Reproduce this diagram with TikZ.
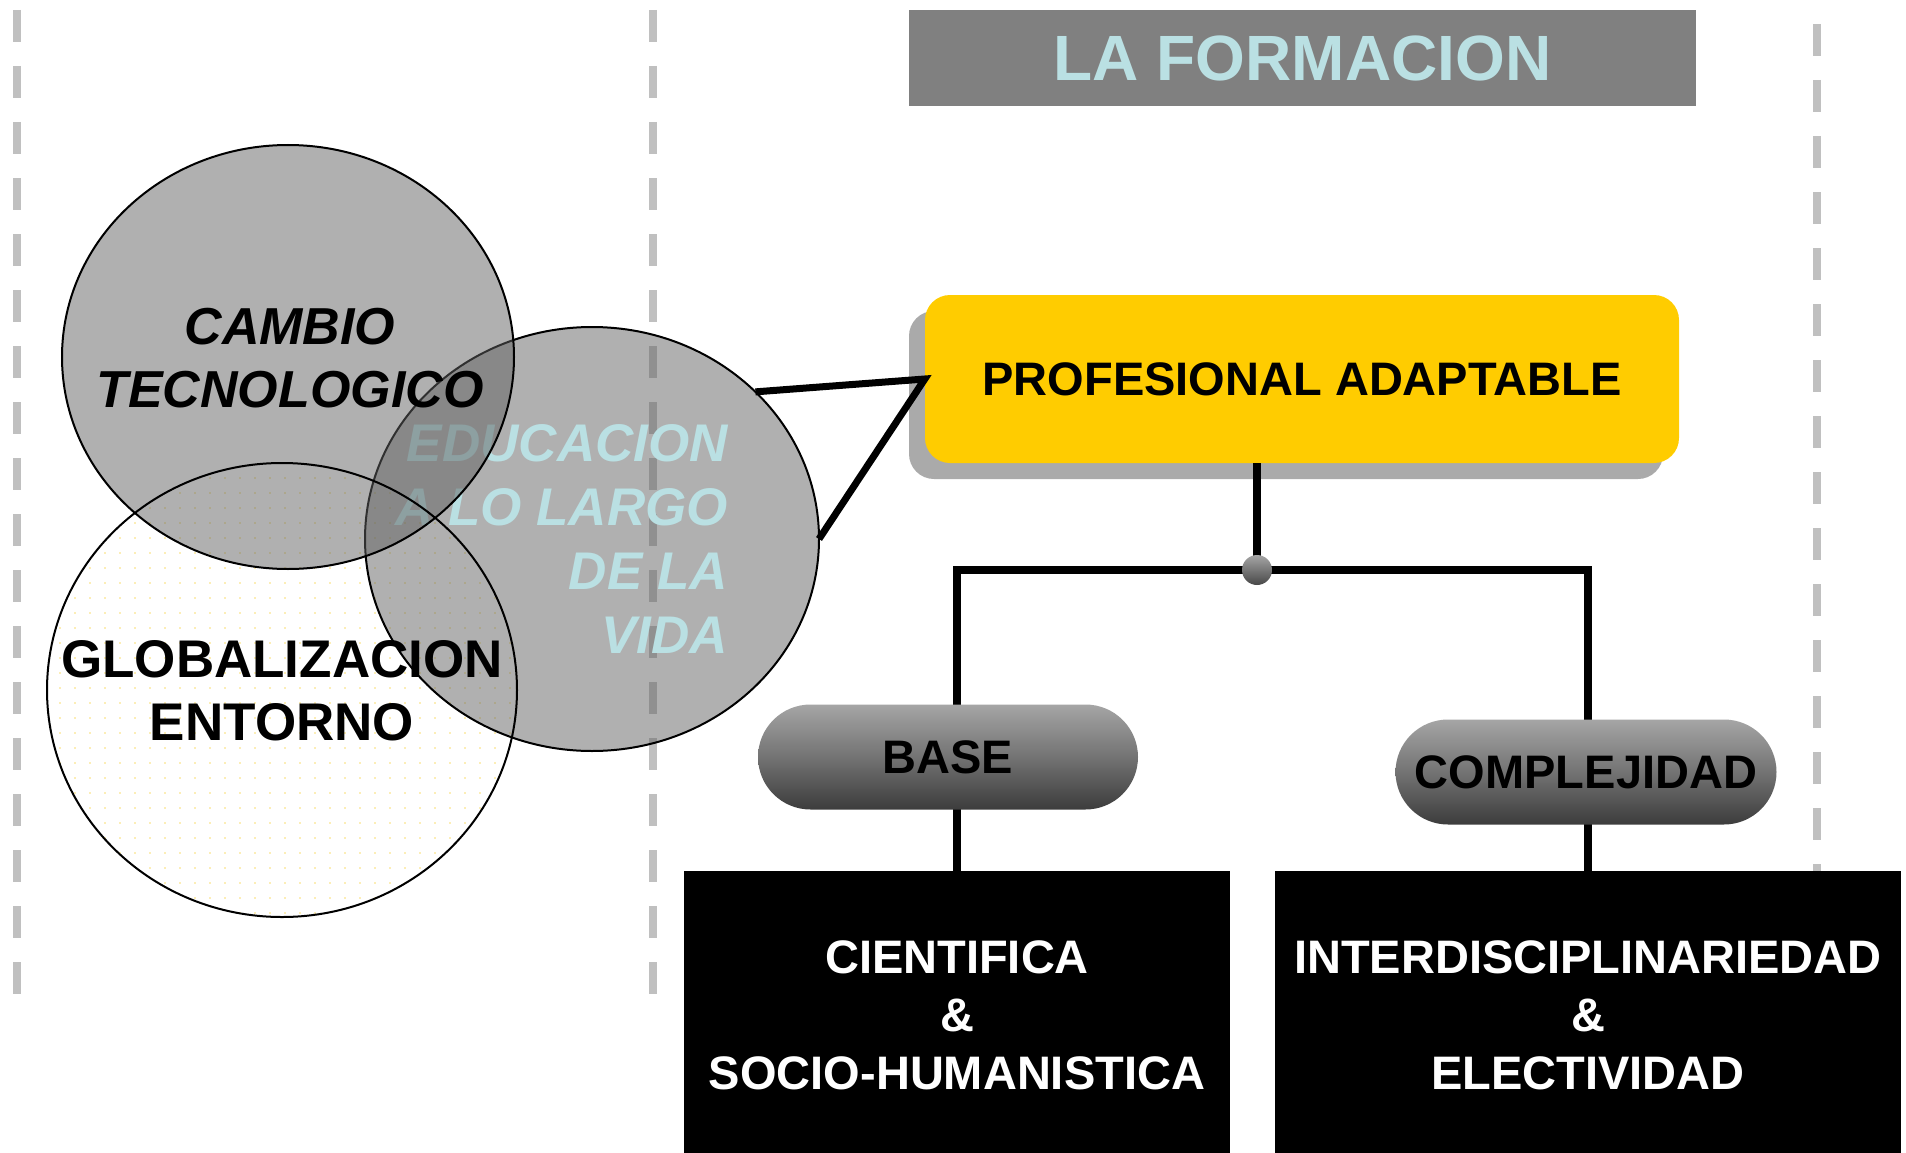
\documentclass[tikz,border=0pt]{standalone}
\usepackage{fontspec}
\setmainfont{Liberation Sans}
\usetikzlibrary{shapes.geometric,shapes.misc,shadows,patterns.meta}

\definecolor{dashgray}{RGB}{192,192,192}
\definecolor{titlegray}{RGB}{128,128,128}
\definecolor{paleblue}{RGB}{186,224,227}
\definecolor{gold}{RGB}{255,204,0}
\definecolor{shadowgray}{RGB}{170,170,170}
\definecolor{dotyellow}{RGB}{248,220,110}
\definecolor{pilltop}{RGB}{165,165,165}
\definecolor{pillmid}{RGB}{115,115,115}
\definecolor{pillbot}{RGB}{60,60,60}

\begin{document}
\begin{tikzpicture}[x=1pt,y=-1pt,
  sep/.style={draw=dashgray,line width=7.5pt,dash pattern=on 32pt off 24pt},
  bubble/.style={ellipse,inner sep=0pt,outer sep=0pt},
  graybubble/.style={bubble,fill=black!62,fill opacity=0.5,draw=black,line width=2pt},
  outline/.style={bubble,draw=black,line width=2pt},
  bigtext/.style={align=center,inner sep=0pt,font=\bfseries\fontsize{53}{63}\selectfont},
  titlebox/.style={fill=titlegray,minimum width=787,minimum height=96,inner sep=0pt,
    text=paleblue,font=\bfseries\fontsize{64}{70}\selectfont},
  profbox/.style={fill=gold,rounded corners=25pt,minimum width=754,minimum height=168,inner sep=0pt,
    font=\bfseries\fontsize{47}{58}\selectfont,
    drop shadow={shadow xshift=-16pt,shadow yshift=-16pt,fill=shadowgray,opacity=1}},
  blackbox/.style={fill=black,text=white,align=center,inner sep=0pt,minimum height=288,
    font=\bfseries\fontsize{47}{58}\selectfont},
  pill/.style={rounded rectangle,minimum width=380,minimum height=105,inner sep=0pt,
    top color=pilltop,bottom color=pillbot,middle color=pillmid,
    font=\bfseries\fontsize{47}{58}\selectfont},
  jdot/.style={circle,minimum size=30,inner sep=0pt,top color=black!35,bottom color=black!72},
  wire/.style={line width=8pt},
  link/.style={line width=7pt,line join=miter}
]
\useasboundingbox (0,0) rectangle (1906,1153);

% dashed separators
\draw[sep] (17,10) -- (17,994);
\draw[sep] (653,10) -- (653,994);
\draw[sep] (1817,24) -- (1817,1153);

% bubbles
\node[bubble,minimum width=470,minimum height=454,
  pattern={Dots[distance=15pt,radius=0.9pt]},pattern color=dotyellow] (glob) at (282,690) {};
\node[graybubble,minimum width=454,minimum height=424] (edu) at (592,539) {};
\node[anchor=east,align=right,inner sep=0pt,text=paleblue,
  font=\bfseries\itshape\fontsize{53}{64}\selectfont] (edutxt) at (728,538.5)
  {EDUCACION\\A LO LARGO\\DE LA\\VIDA};
\node[graybubble,minimum width=452,minimum height=424] (cambio) at (288,357) {};
\node[outline,minimum width=470,minimum height=454] (globline) at (glob) {};

\node[bigtext,font=\bfseries\itshape\fontsize{52}{63}\selectfont] (cambiotxt) at (290,358)
  {CAMBIO\\TECNOLOGICO};
\node[bigtext] (globtxt) at (282,690.5) {GLOBALIZACION\\ENTORNO};

% title
\node[titlebox] (title) at (1302.5,58) {LA FORMACION};

% main box
\node[profbox] (prof) at (1302,379) {PROFESIONAL ADAPTABLE};
\draw[link] (edu.42.5) -- (prof.west) -- (edu.east);

% lower boxes
\node[blackbox,minimum width=546] (cient) at (957,1015)
  {CIENTIFICA\\\&\\SOCIO-HUMANISTICA};
\node[blackbox,minimum width=626] (inter) at (1588,1015)
  {INTERDISCIPLINARIEDAD\\\&\\ELECTIVIDAD};

% tree wires
\coordinate (jn) at (1257,570);
\draw[wire] (prof.south -| jn) -- (jn);
\draw[wire] (jn) -| (cient.north);
\draw[wire] (jn) -| (inter.north);

% pills and junction
\node[pill] (base) at (948,757) {BASE};
\node[pill,minimum width=381] (compl) at (1586,772) {COMPLEJIDAD};
\node[jdot] (dot) at (jn) {};
\end{tikzpicture}
\end{document}
